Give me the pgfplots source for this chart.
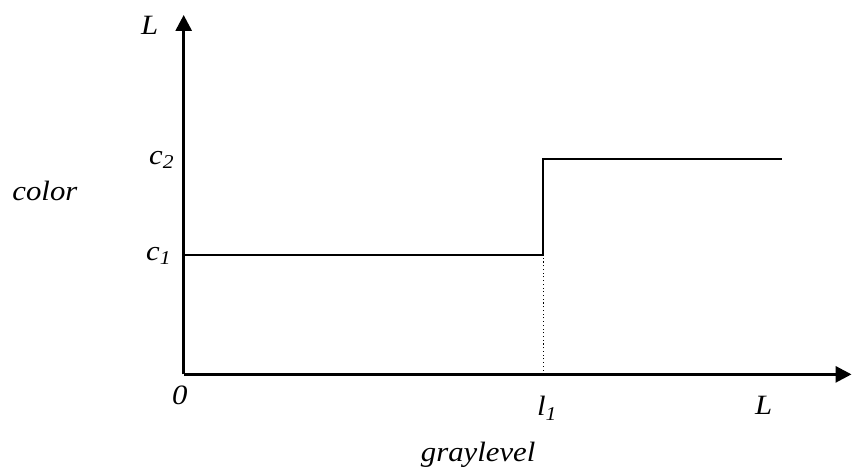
\documentclass[border=0pt]{standalone}
\usepackage{fontspec}
\setmainfont{Liberation Serif}[FakeStretch=1.1]
\usepackage{pgfplots}
\pgfplotsset{compat=1.18}
\usetikzlibrary{arrows.meta}

% one data unit = one pixel of the reference (0.75pt)
\tikzset{lbl/.style={font=\fontsize{21pt}{25pt}\selectfont\itshape, inner sep=0pt}}

\begin{document}
\begin{tikzpicture}
  \begin{axis}[
      scale only axis,
      width=501.75pt, height=270pt,
      xmin=0, xmax=669,
      ymin=0, ymax=360,
      axis lines=left,
      axis line style={line width=2.2pt, -{Triangle[length=12pt, width=12pt]}},
      ticks=none,
      clip=false,
    ]
    % step function
    \addplot[black, line width=1.5pt] coordinates {
        (0,120) (360,120) (360,216) (599,216)
      };
    % dotted guide at l1
    \addplot[black, line width=0.8pt, dotted] coordinates {
        (360,0) (360,120)
      };

    \node[lbl] at (axis cs:-34,350) {L};
    \node[lbl] at (axis cs:-22,215) {c\textsubscript{2}};
    \node[lbl] at (axis cs:-139,184) {color};
    \node[lbl] at (axis cs:-25,119) {c\textsubscript{1}};
    \node[lbl] at (axis cs:-4,-21) {0};
    \node[lbl] at (axis cs:364,-34) {l\textsubscript{1}};
    \node[lbl] at (axis cs:581,-31) {L};
    \node[lbl] at (axis cs:295,-81) {graylevel};

    % page extent of the reference
    \path (axis cs:-184,-97) rectangle (axis cs:669,375);
  \end{axis}
\end{tikzpicture}
\end{document}
